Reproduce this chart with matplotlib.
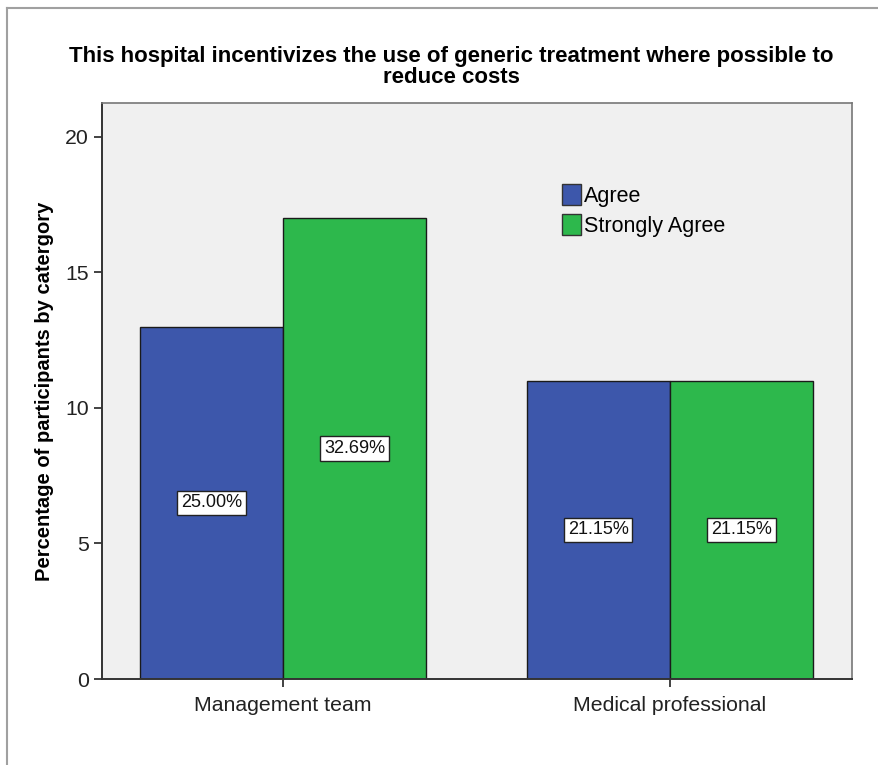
import numpy as np
import matplotlib.pyplot as plt
from matplotlib.patches import Rectangle
from matplotlib.lines import Line2D

plt.rcParams['font.family'] = ['Liberation Sans', 'DejaVu Sans']

categories = ['Management team', 'Medical professional']
series = ['Agree', 'Strongly Agree']
counts_agree = [13, 11]
counts_strong = [17, 11]
labels_agree = ['25.00%', '21.15%']
labels_strong = ['32.69%', '21.15%']
colors = ['#3d57ab', '#2db84c']

fig = plt.figure(figsize=(8.79, 7.65), dpi=100)
ax = fig.add_axes([0.116, 0.1124, 0.853, 0.753])
ax.set_facecolor('#f0f0f0')

x = np.arange(len(categories))
w = 0.37
b1 = ax.bar(x - w / 2, counts_agree, w, color=colors[0], edgecolor='#1a1a1a', linewidth=1, label=series[0])
b2 = ax.bar(x + w / 2, counts_strong, w, color=colors[1], edgecolor='#1a1a1a', linewidth=1, label=series[1])

box = dict(boxstyle='square,pad=0.2', facecolor='white', edgecolor='#222222', linewidth=1)
for bars, labs in [(b1, labels_agree), (b2, labels_strong)]:
    for r, lab in zip(bars, labs):
        ax.text(r.get_x() + r.get_width() / 2, r.get_height() / 2, lab,
                ha='center', va='center', fontsize=13, color='#111111', bbox=box)

ax.set_xlim(-0.468, 1.47)
ax.set_ylim(0, 21.25)
ax.set_yticks([0, 5, 10, 15, 20])
ax.set_xticks(x)
ax.set_xticklabels(categories)
ax.tick_params(axis='both', labelsize=15.3, colors='#222222', length=6, width=1.2)
ax.tick_params(axis='x', pad=6)

for s in ['left', 'bottom']:
    ax.spines[s].set_color('#333333')
    ax.spines[s].set_linewidth(1.4)
for s in ['top', 'right']:
    ax.spines[s].set_color('#777777')
    ax.spines[s].set_linewidth(1.2)

ax.set_ylabel('Percentage of participants by catergory', fontsize=14.5, fontweight='bold', labelpad=8)
fig.text(451 / 879, 1 - 67 / 765,
         'This hospital incentivizes the use of generic treatment where possible to\nreduce costs',
         ha='center', va='center', fontsize=16, fontweight='bold', linespacing=1.05)

handles = [Rectangle((0, 0), 1, 1, facecolor=c, edgecolor='#333333') for c in colors]
ax.legend(handles, series, loc='upper left', bbox_to_anchor=(0.6025, 0.874), frameon=False,
          fontsize=15.5, handlelength=0.85, handleheight=1.1, handletextpad=0.15,
          labelspacing=0.35, borderaxespad=0)

# outer frame
fig.add_artist(Line2D([7 / 879, 7 / 879], [0, 1 - 8 / 765], color='#a0a0a0', linewidth=1.5))
fig.add_artist(Line2D([7 / 879, 1], [1 - 8 / 765, 1 - 8 / 765], color='#a0a0a0', linewidth=1.5))

plt.savefig('out.png', dpi=100)
